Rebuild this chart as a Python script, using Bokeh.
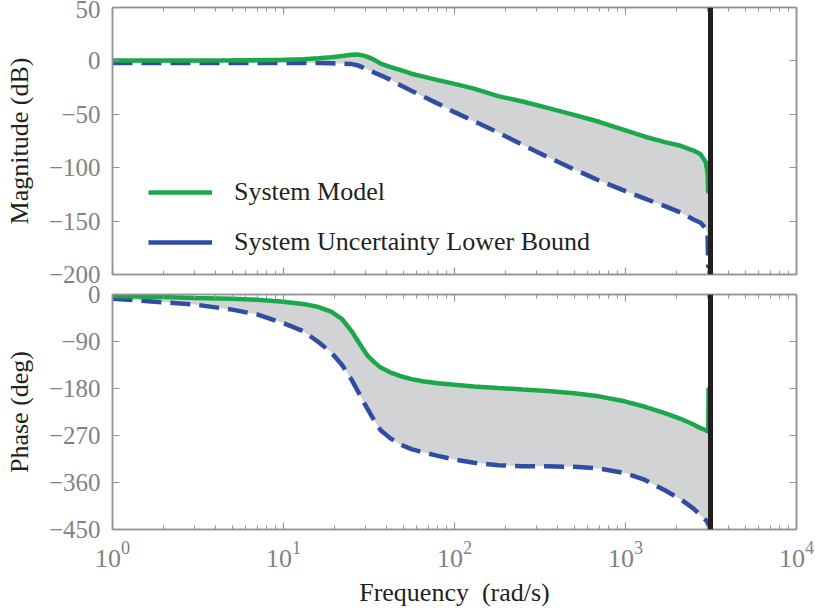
from bokeh.plotting import figure
from bokeh.models import (LogAxis, LinearAxis, LogTicker, FixedTicker, Span,
                          Legend, LegendItem, Range1d)
from bokeh.layouts import column
from bokeh.embed import file_html
from bokeh.resources import INLINE

# ---------------- data ----------------
freq = [1, 2, 3, 5, 7, 10, 13, 16, 19, 22, 25, 27, 29, 31, 34, 37, 42, 48, 56,
        65, 80, 100, 130, 180, 250, 350, 500, 700, 1000, 1300, 1700, 2100,
        2500, 2750, 2950, 3020, 3046, 3060, 3141.6]
mag_model = [0.3, 0.3, 0.4, 0.5, 0.7, 1.0, 1.6, 2.4, 3.4, 4.6, 5.7, 6.0, 5.2,
             3.8, 1.0, -2.5, -5.5, -8.5, -12, -14.5, -18, -21.5, -26, -33,
             -38, -44, -50.5, -57, -65, -71, -76, -79.5, -84, -87.5, -95,
             -105, -123, -123, -123]
mag_lower = [-2, -2, -2, -2, -2, -2, -2, -2, -2.2, -2.5, -3, -4, -6, -8, -11,
             -13.5, -17.5, -22.5, -28, -33, -40, -48, -56.5, -67, -78.5, -90,
             -101.5, -112, -122, -129, -136, -142, -148.5, -151.5, -157, -162,
             -193, -193, -193]
phase_model = [-3, -5, -6.5, -8, -10, -14, -18, -24, -33, -47, -70, -87, -103,
               -117, -130, -140, -149, -156, -162, -166, -170, -173, -176,
               -179, -182, -185, -189, -195, -205, -215, -227, -238, -249,
               -256, -260, -262, -264, -180, -180]
phase_lower = [-8, -15, -19, -29, -38, -55, -70, -91, -111, -135, -163, -183,
               -202, -219, -242, -260, -275, -287, -296, -302, -309, -316,
               -322, -327, -329, -329, -330, -333, -342, -355, -375, -392,
               -410, -423, -432, -437, -440, -442, -443]
nyquist = 3141.6
mag_ticks = [-200, -150, -100, -50, 0, 50]
phase_ticks = [-450, -360, -270, -180, -90, 0]
series_labels = ["System Model", "System Uncertainty Lower Bound"]

# ---------------- style ----------------
GREEN = "#1ba84b"
BLUE = "#2f4da2"
FILL = "#d1d3d4"
BLACK = "#231f20"
AXIS = "#939598"
TICKLAB = "#808285"
FONT = "Liberation Serif"
W = 815


def minus_labels(ticks):
    return {t: str(t).replace("-", "\u2212") for t in ticks}


def style_axis(ax, labels=True, minor=False, size="25px"):
    ax.axis_line_color = AXIS
    ax.axis_line_width = 1.5
    ax.major_tick_line_color = AXIS
    ax.major_tick_line_width = 1.2
    ax.major_tick_in = 7
    ax.major_tick_out = 0
    if minor:
        ax.minor_tick_line_color = AXIS
        ax.minor_tick_line_width = 1.0
        ax.minor_tick_in = 4
        ax.minor_tick_out = 0
    else:
        ax.minor_tick_line_color = None
    ax.major_label_text_font = FONT
    ax.major_label_text_color = TICKLAB
    ax.axis_label_text_font = FONT
    ax.axis_label_text_font_style = "normal"
    ax.axis_label_text_color = BLACK
    ax.axis_label_text_font_size = "26px"
    if labels:
        ax.major_label_text_font_size = size
        ax.major_label_standoff = 12
    else:
        ax.major_label_text_font_size = "1px"
        ax.major_label_text_alpha = 0
        ax.major_label_standoff = 0


def make_panel(height, top, bottom, yr, yticks, ylabel, model, lower, xlabel):
    p = figure(width=W, height=height, x_axis_type="log",
               x_range=Range1d(1, 10000), y_range=Range1d(*yr),
               output_backend="svg", toolbar_location=None,
               min_border_left=112, min_border_right=19,
               min_border_top=top, min_border_bottom=bottom)
    p.xgrid.visible = False
    p.ygrid.visible = False
    p.outline_line_color = AXIS
    p.outline_line_width = 1.5
    p.background_fill_color = "white"
    p.border_fill_color = "white"

    xa = p.xaxis[0]
    xa.ticker = LogTicker(desired_num_ticks=5, num_minor_ticks=10)
    style_axis(xa, labels=xlabel is not None, minor=True, size="26px")
    if xlabel:
        xa.axis_label = xlabel
        xa.axis_label_standoff = 8
    ya = p.yaxis[0]
    ya.ticker = FixedTicker(ticks=yticks)
    style_axis(ya, labels=True)
    ya.major_label_overrides = minus_labels(yticks)
    ya.axis_label = ylabel
    ya.axis_label_standoff = 12

    top_ax = LogAxis(ticker=LogTicker(desired_num_ticks=5, num_minor_ticks=10))
    style_axis(top_ax, labels=False, minor=True)
    p.add_layout(top_ax, "above")
    right_ax = LinearAxis(ticker=FixedTicker(ticks=yticks))
    style_axis(right_ax, labels=False)
    p.add_layout(right_ax, "right")

    p.varea(x=freq, y1=lower, y2=model, fill_color=FILL)
    p.line(freq, lower, line_color=BLUE, line_width=4.5, line_dash="20 9")
    p.line(freq, model, line_color=GREEN, line_width=4.5)
    p.add_layout(Span(location=nyquist, dimension="height",
                      line_color=BLACK, line_width=5))
    return p


p1 = make_panel(284, 7, 10, (-200, 50), mag_ticks, "Magnitude (dB)",
                mag_model, mag_lower, None)
p2 = make_panel(327, 10, 82, (-450, 0), phase_ticks, "Phase (deg)",
                phase_model, phase_lower, "Frequency \u00a0(rad/s)")

# legend with solid samples (hidden renderers, used only for the key)
g_leg = p1.line(freq, mag_model, line_color=GREEN, line_width=4.5,
                visible=False)
b_leg = p1.line(freq, mag_lower, line_color=BLUE, line_width=4.5,
                visible=False)
legend = Legend(items=[LegendItem(label=series_labels[0], renderers=[g_leg]),
                       LegendItem(label=series_labels[1], renderers=[b_leg])],
                location=(36, 17), padding=0, margin=0,
                border_line_color=None, background_fill_alpha=0,
                glyph_width=64, glyph_height=26, label_height=26,
                label_standoff=22, spacing=20,
                label_text_font=FONT, label_text_font_size="26px",
                label_text_color=BLACK)
p1.add_layout(legend)

layout = column(p1, p2, spacing=0)
open("out.html", "w").write(file_html(layout, INLINE))
